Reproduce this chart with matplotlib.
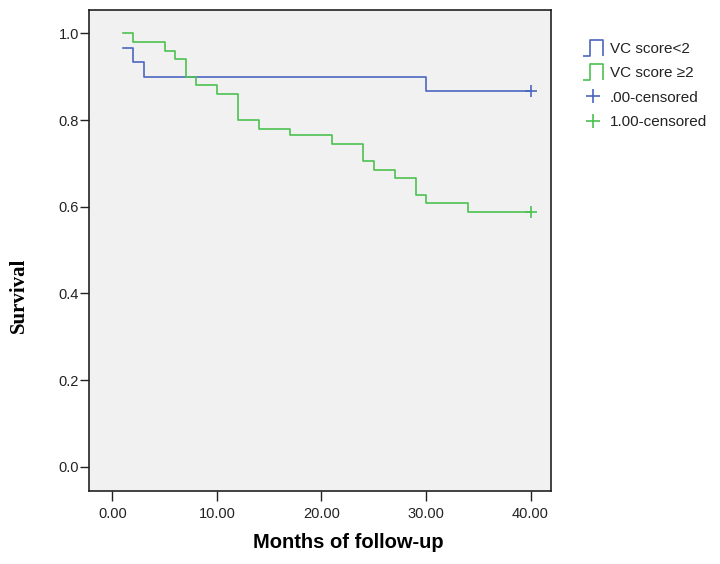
import matplotlib
matplotlib.use("Agg")
import matplotlib.pyplot as plt
from matplotlib.lines import Line2D
from matplotlib.path import Path

# Kaplan-Meier steps (time, survival after the step)
blue_t = [1, 2, 3, 30, 40]
blue_s = [0.967, 0.933, 0.900, 0.867, 0.867]
green_t = [1, 2, 5, 6, 7, 8, 10, 12, 14, 17, 21, 24, 25, 27, 29, 30, 34, 40]
green_s = [1.0, 0.98, 0.96, 0.94, 0.90, 0.88, 0.86, 0.80, 0.78, 0.765, 0.745,
           0.705, 0.685, 0.667, 0.627, 0.608, 0.588, 0.588]

x_ticks = [0, 10, 20, 30, 40]
x_ticklabels = ["0.00", "10.00", "20.00", "30.00", "40.00"]
y_ticks = [0.0, 0.2, 0.4, 0.6, 0.8, 1.0]
y_ticklabels = ["0.0", "0.2", "0.4", "0.6", "0.8", "1.0"]
labels = ["VC score<2", "VC score \u22652", ".00-censored", "1.00-censored"]

BLUE = "#4c66bf"
GREEN = "#4cc24f"

plt.rcParams['font.family'] = ['Liberation Sans', 'DejaVu Sans']

fig = plt.figure(figsize=(7.2, 5.64), dpi=100)
ax = fig.add_axes([88.5 / 720, 73 / 564, 462.5 / 720, 481 / 564])
ax.set_facecolor("#f1f1f1")

ax.step(blue_t, blue_s, where="post", color=BLUE, lw=1.2)
ax.step(green_t, green_s, where="post", color=GREEN, lw=1.2)
ax.plot(blue_t[-1], blue_s[-1], marker="+", ms=9, mew=1.2, color=BLUE)
ax.plot(green_t[-1], green_s[-1], marker="+", ms=9, mew=1.2, color=GREEN)

ax.set_xlim(-2.28, 41.96)
ax.set_ylim(-0.056, 1.054)
ax.set_xticks(x_ticks)
ax.set_xticklabels(x_ticklabels)
ax.set_yticks(y_ticks)
ax.set_yticklabels(y_ticklabels)
ax.tick_params(axis="x", direction="out", length=7, width=1, pad=4.5,
               labelsize=10.5, colors="#222222")
ax.tick_params(axis="y", direction="out", length=6.5, width=1, pad=0.5,
               labelsize=10.5, colors="#222222")
for sp in ax.spines.values():
    sp.set_linewidth(1.2)
    sp.set_color("#222222")

ax.set_xlabel("Months of follow-up", fontsize=14.5, fontweight="bold")
ax.xaxis.set_label_coords(0.561, -0.087)
ax.set_ylabel("Survival", fontsize=15, fontweight="bold",
              family=["Liberation Serif", "DejaVu Serif"])
ax.yaxis.set_label_coords(-0.128, 0.406)

# legend icons: SPSS style step glyph
step_icon = Path([(-1, -0.75), (-0.25, -0.75), (-0.25, 0.75), (1, 0.75), (1, -0.75)],
                 [Path.MOVETO, Path.LINETO, Path.LINETO, Path.LINETO, Path.LINETO])
handles = [
    Line2D([], [], color=BLUE, marker=step_icon, ls="None", ms=14.5,
           mfc="none", mew=1.2),
    Line2D([], [], color=GREEN, marker=step_icon, ls="None", ms=14.5,
           mfc="none", mew=1.2),
    Line2D([], [], color=BLUE, marker="+", ls="None", ms=10, mew=1.2),
    Line2D([], [], color=GREEN, marker="+", ls="None", ms=10, mew=1.2),
]
fig.legend(handles, labels, loc="upper left", bbox_to_anchor=(581 / 720, 1 - 42 / 564),
           frameon=False, fontsize=11, handlelength=1.6, handletextpad=0.3,
           labelspacing=0.68, borderaxespad=0, borderpad=0, labelcolor="#222222")

fig.savefig("out.png", dpi=100)
